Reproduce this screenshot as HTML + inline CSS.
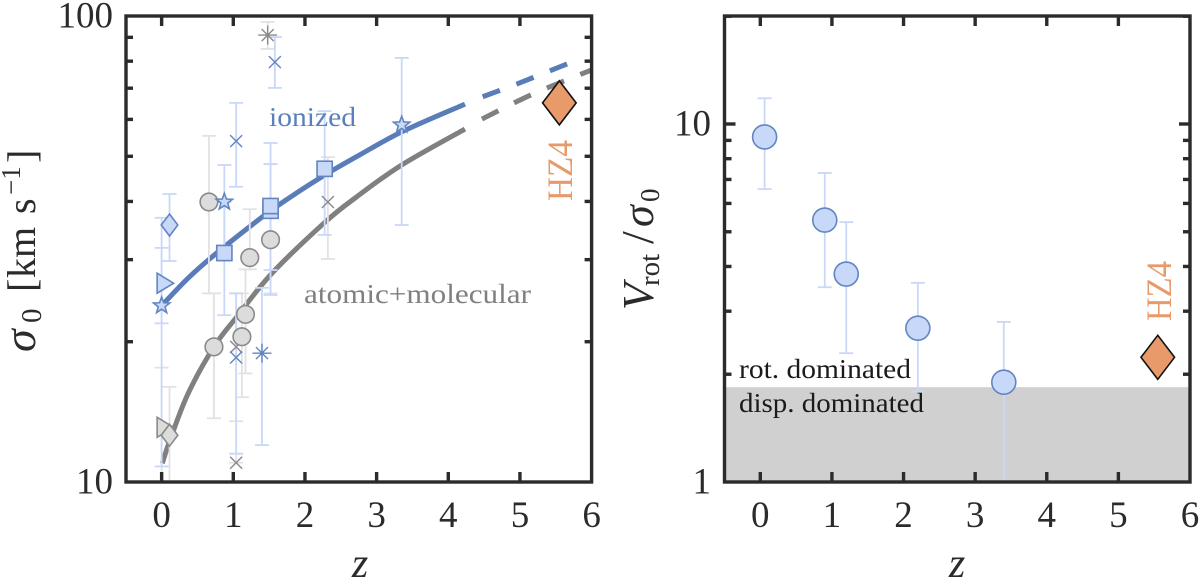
<!DOCTYPE html>
<html><head><meta charset="utf-8"><style>
html,body{margin:0;padding:0;background:#fff;width:1200px;height:580px;overflow:hidden}
svg{display:block}
text{font-family:"Liberation Serif",serif;fill:#2b2b2b}
</style></head><body>
<svg id="fig" width="1200" height="580" viewBox="0 0 1200 580" xmlns="http://www.w3.org/2000/svg">
<defs>
<clipPath id="clipL"><rect x="126" y="16" width="466" height="466"/></clipPath>
<clipPath id="clipR"><rect x="724.5" y="16" width="465.5" height="466"/></clipPath>
</defs>
<g id="left"></g>
<g id="right"></g>
<text transform="translate(35,352) rotate(-90)" font-size="40"><tspan font-style="italic" font-size="46">σ</tspan><tspan x="29" font-size="29" dy="6">0</tspan><tspan x="60" dy="-6">[</tspan><tspan x="74">km</tspan><tspan x="138">s</tspan><tspan x="157" font-size="27" dy="-15">−1</tspan><tspan x="189" dy="15">]</tspan></text>
<text transform="translate(653,310) rotate(-90)" font-size="40"><tspan font-style="italic" font-size="44">V</tspan><tspan x="24" font-size="29" dy="6">rot</tspan><tspan x="66" font-size="46" dy="-6">/</tspan><tspan x="83" font-style="italic" font-size="44">σ</tspan><tspan x="108" font-size="27" dy="6">0</tspan></text>
<text x="360" y="577" font-size="42" font-style="italic" text-anchor="middle">z</text>
<text x="957" y="577" font-size="42" font-style="italic" text-anchor="middle">z</text>
<text x="269" y="126" font-size="27" textLength="87" lengthAdjust="spacingAndGlyphs" style="fill:#5b7fbd">ionized</text>
<text x="304" y="303" font-size="27" textLength="227" lengthAdjust="spacingAndGlyphs" style="fill:#808080">atomic+molecular</text>
<text transform="translate(572,201) rotate(-90)" font-size="36" textLength="61" lengthAdjust="spacingAndGlyphs" style="fill:#e89a6a">HZ4</text>
<text transform="translate(1171,321) rotate(-90)" font-size="36" textLength="60" lengthAdjust="spacingAndGlyphs" style="fill:#e89a6a">HZ4</text>
<text x="739" y="378" font-size="27" textLength="172" lengthAdjust="spacingAndGlyphs" style="fill:#1a1a1a">rot.  dominated</text>
<text x="739" y="412" font-size="27" textLength="185" lengthAdjust="spacingAndGlyphs" style="fill:#1a1a1a">disp.  dominated</text>
</svg>
<script>
// tick labels
const zTicks = [0, 1, 2, 3, 4, 5, 6];
const sigmaMinorTicks = [20, 30, 40, 50, 60, 70, 80, 90];
const sigmaLabels = [10, 100];
const ratioMinorTicks = [2, 3, 4, 5, 6, 7, 8, 9, 20];
const ratioLabels = [1, 10];

// curves
const ionizedCurveZ = [0, 0.371, 0.79, 1.44, 1.79, 2.28, 2.72, 3.36, 4.233];
const ionizedCurveSigma = [23.9, 27.4, 31.2, 37.4, 40.8, 45.6, 49.9, 56.5, 64.7];
const ionizedDashZ = [4.48, 4.99, 5.72];
const ionizedDashSigma = [67.1, 71.8, 79.6];
const molecularCurveZ = [0.01, 0.116, 0.371, 0.73, 1.047, 1.535, 2.28, 2.72, 3.35, 4.233];
const molecularCurveSigma = [10.97, 12.3, 15.5, 19.5, 22.6, 28.0, 36.1, 40.9, 47.9, 57.2];
const molecularDashZ = [4.47, 5.18, 6.0];
const molecularDashSigma = [60.1, 68.0, 76.6];

// ionized gas measurements
const ionizedMarkers = ['star','triangle','diamond','square','star','x','x','asterisk','x','square','square','square','star'];
const ionizedZ =     [0, 0, 0.11, 0.875, 0.875, 1.04, 1.04, 1.40, 1.58, 1.52, 1.52, 2.275, 3.35];
const ionizedSigma = [23.9, 26.7, 35.6, 31.0, 39.9, 53.9, 18.5, 18.9, 79.6, 38.2, 39.1, 47.0, 58.4];
const ionizedHigh =  [36.9, 31.8, 41.5, 39.9, 47.9, 65.1, 25.4, 26.1, 90.1, 48.1, 53.4, 62.5, 81.3];
const ionizedLow =   [10.8, 21.9, 29.8, 22.8, 31.0, 43.0, 11.5, 12.0, 70.1, 25.2, 28.5, 33.9, 35.6];

// atomic + molecular gas measurements
const molecularMarkers = ['triangle','diamond','circle','circle','x','circle','circle','circle','x','asterisk','circle','x'];
const molecularZ =     [0, 0.11, 0.66, 0.73, 1.04, 1.12, 1.17, 1.23, 1.04, 1.48, 1.52, 2.32];
const molecularSigma = [13.1, 12.6, 39.9, 19.5, 19.5, 20.5, 22.9, 30.3, 11.0, 91.0, 33.1, 39.9];
const molecularHigh =  [17.6, 16.0, 55.3, 25.4, 25.4, 25.4, 28.6, 38.5, 11.5, 97.1, 48.1, 49.8];
const molecularLow =   [9, 9, 25.4, 13.7, 13.5, 15.2, 17.1, 28.6, 11.0, 85.0, 25.4, 30.1];

// HZ4
const hz4Z = [5.55];
const hz4Sigma = [65.1];
const hz4Ratio = [2.23];

// rotation to dispersion ratio
const ratioZ = [0.06, 0.90, 1.2, 2.2, 3.4];
const ratioValue = [9.2, 5.39, 3.81, 2.69, 1.90];
const ratioHigh = [11.8, 7.3, 5.32, 3.6, 2.8];
const ratioLow = [6.58, 3.5, 2.29, 1.79, 0.9];
const dominationThreshold = [1.84];

const NS = 'http://www.w3.org/2000/svg';
const FRAME = '#2b2b2b';
const BLUE = {line:'#5a7dba', err:'#c9d8f8', fill:'#c8d8f8', stroke:'#6285c2'};
const GRAY = {line:'#808080', err:'#e2e2e2', fill:'#dcdcdc', stroke:'#8a8a8a'};

function mk(parent, tag, attrs, txt) {
  const n = document.createElementNS(NS, tag);
  for (const k in attrs) n.setAttribute(k, attrs[k]);
  if (txt !== undefined) n.textContent = txt;
  parent.appendChild(n);
  return n;
}
function zScale(L, R) { return z => L + (z + 0.5) / 6.5 * (R - L); }
function logScale(min, max, bottom, top) {
  return v => bottom - (Math.log10(v) - Math.log10(min)) / (Math.log10(max) - Math.log10(min)) * (bottom - top);
}
const T = 16, B = 482;
const xL = zScale(125.8, 591.6), yL = logScale(10, 100, B, T);
const xR = zScale(724.5, 1190), yR = logScale(1, 20.03, B, T);

function splinePath(px) {
  let d = 'M' + px[0][0] + ' ' + px[0][1];
  for (let i = 0; i < px.length - 1; i++) {
    const p0 = px[Math.max(i - 1, 0)], p1 = px[i], p2 = px[i + 1], p3 = px[Math.min(i + 2, px.length - 1)];
    d += ' C' + (p1[0] + (p2[0] - p0[0]) / 6) + ' ' + (p1[1] + (p2[1] - p0[1]) / 6) + ' ' +
      (p2[0] - (p3[0] - p1[0]) / 6) + ' ' + (p2[1] - (p3[1] - p1[1]) / 6) + ' ' + p2[0] + ' ' + p2[1];
  }
  return d;
}
function curve(parent, zs, vals, xf, yf, color, dash) {
  const px = zs.map((z, i) => [xf(z), yf(vals[i])]);
  const a = {d: splinePath(px), fill: 'none', stroke: color, 'stroke-width': 5};
  if (dash) a['stroke-dasharray'] = '18.5 17.5';
  return mk(parent, 'path', a);
}
function errorBar(parent, x, yHi, yLo, color) {
  const g = mk(parent, 'g', {stroke: color, 'stroke-width': 1.8, fill: 'none'});
  mk(g, 'line', {x1: x, x2: x, y1: yHi, y2: yLo});
  mk(g, 'line', {x1: x - 7, x2: x + 7, y1: yHi, y2: yHi});
  mk(g, 'line', {x1: x - 7, x2: x + 7, y1: yLo, y2: yLo});
  return g;
}
function marker(parent, kind, x, y, c) {
  const st = {fill: c.fill, stroke: c.stroke, 'stroke-width': 1.6};
  const g = mk(parent, 'g', st);
  const poly = pts => mk(g, 'polygon', {points: pts.map(p => (x + p[0]) + ',' + (y + p[1])).join(' ')});
  const seg = (dx, dy) => mk(g, 'line', {x1: x - dx, y1: y - dy, x2: x + dx, y2: y + dy, fill: 'none', 'stroke-width': 1.4});
  if (kind === 'circle') mk(g, 'circle', {cx: x, cy: y, r: 8.8});
  else if (kind === 'square') mk(g, 'rect', {x: x - 7.6, y: y - 7.6, width: 15.2, height: 15.2});
  else if (kind === 'diamond') poly([[0, -11], [8.3, 0], [0, 11], [-8.3, 0]]);
  else if (kind === 'triangle') poly([[-4.5, -10], [12, 0], [-4.5, 10]]);
  else if (kind === 'star') {
    const pts = [];
    for (let i = 0; i < 10; i++) {
      const r = i % 2 ? 3.6 : 8.6, a = -Math.PI / 2 + i * Math.PI / 5;
      pts.push([r * Math.cos(a), r * Math.sin(a)]);
    }
    poly(pts);
  } else if (kind === 'x') { seg(6, 6); seg(6, -6); }
  else if (kind === 'asterisk') {
    seg(9.5, 0); seg(0, 9.5); seg(6, 6); seg(6, -6);
    mk(g, 'circle', {cx: x, cy: y, r: 2, fill: c.stroke, stroke: 'none'});
  }
  return g;
}
function hz4Diamond(parent, x, y) {
  return mk(parent, 'polygon', {
    points: [[x, y - 22], [x + 16.8, y], [x, y + 22], [x - 16.8, y]].map(p => p.join(',')).join(' '),
    fill: '#e89a6a', stroke: '#111', 'stroke-width': 1.6
  });
}
function frame(parent, L, R, xf, yf, minor, labels, lblRight) {
  const g = mk(parent, 'g', {stroke: FRAME, 'stroke-width': 3.4, fill: 'none'});
  
  
  mk(g, 'rect', {x: L, y: T, width: R - L, height: B - T});
  zTicks.forEach(z => {
    const x = xf(z);
    if (x < R - 1) {
      mk(g, 'line', {x1: x, x2: x, y1: B, y2: B - 10});
      mk(g, 'line', {x1: x, x2: x, y1: T, y2: T + 10});
    }
    const t = mk(parent, 'text', {x: x, y: 527, 'font-size': 37, 'text-anchor': 'middle'}, z);
    
    
  });
  minor.forEach(v => {
    const y = yf(v);
    mk(g, 'line', {x1: L, x2: L + 7, y1: y, y2: y});
    mk(g, 'line', {x1: R, x2: R - 7, y1: y, y2: y});
  });
  labels.forEach(v => {
    const y = yf(v);
    if (y > T + 1 && y < B - 1) {
      mk(g, 'line', {x1: L, x2: L + 11, y1: y, y2: y});
      mk(g, 'line', {x1: R, x2: R - 11, y1: y, y2: y});
    }
    const t = mk(parent, 'text', {x: lblRight, y: y + 11.5, 'font-size': 37, 'text-anchor': 'end'}, v);
    
    
  });
}

// left panel
const left = document.getElementById('left');
const plotL = mk(left, 'g', {'clip-path': 'url(#clipL)'});
const ionSolid = curve(plotL, ionizedCurveZ, ionizedCurveSigma, xL, yL, BLUE.line, false);


const ionDash = curve(plotL, ionizedDashZ, ionizedDashSigma, xL, yL, BLUE.line, true);


const molSolid = curve(plotL, molecularCurveZ, molecularCurveSigma, xL, yL, GRAY.line, false);


const molDash = curve(plotL, molecularDashZ, molecularDashSigma, xL, yL, GRAY.line, true);



molecularZ.forEach((z, i) => {
  const e = errorBar(plotL, xL(z), yL(molecularHigh[i]), yL(molecularLow[i]), GRAY.err);
  
  
});
ionizedZ.forEach((z, i) => {
  const e = errorBar(plotL, xL(z), yL(ionizedHigh[i]), yL(ionizedLow[i]), BLUE.err);
  
  
});
molecularZ.forEach((z, i) => {
  const m = marker(plotL, molecularMarkers[i], xL(z), yL(molecularSigma[i]), GRAY);
  
  
});
ionizedZ.forEach((z, i) => {
  const m = marker(plotL, ionizedMarkers[i], xL(z), yL(ionizedSigma[i]), BLUE);
  
  
});
const hzL = hz4Diamond(plotL, xL(hz4Z[0]), yL(hz4Sigma[0]));


frame(left, 126, 591.6, xL, yL, sigmaMinorTicks, sigmaLabels, 113);

// right panel
const right = document.getElementById('right');
const plotR = mk(right, 'g', {'clip-path': 'url(#clipR)'});
const band = mk(plotR, 'rect', {x: 724.5, y: yR(dominationThreshold[0]), width: 465.5, height: B - yR(dominationThreshold[0]), fill: '#d0d0d0'});


ratioZ.forEach((z, i) => {
  const e = errorBar(plotR, xR(z), yR(ratioHigh[i]), yR(ratioLow[i]), BLUE.err);
  
  
});
ratioZ.forEach((z, i) => {
  const c = mk(plotR, 'circle', {cx: xR(z), cy: yR(ratioValue[i]), r: 12, fill: BLUE.fill, stroke: BLUE.stroke, 'stroke-width': 1.6});
  
  
});
const hzR = hz4Diamond(plotR, xR(hz4Z[0]), yR(hz4Ratio[0]));


frame(right, 724.5, 1190, xR, yR, ratioMinorTicks, ratioLabels, 711);
</script>
</body></html>
